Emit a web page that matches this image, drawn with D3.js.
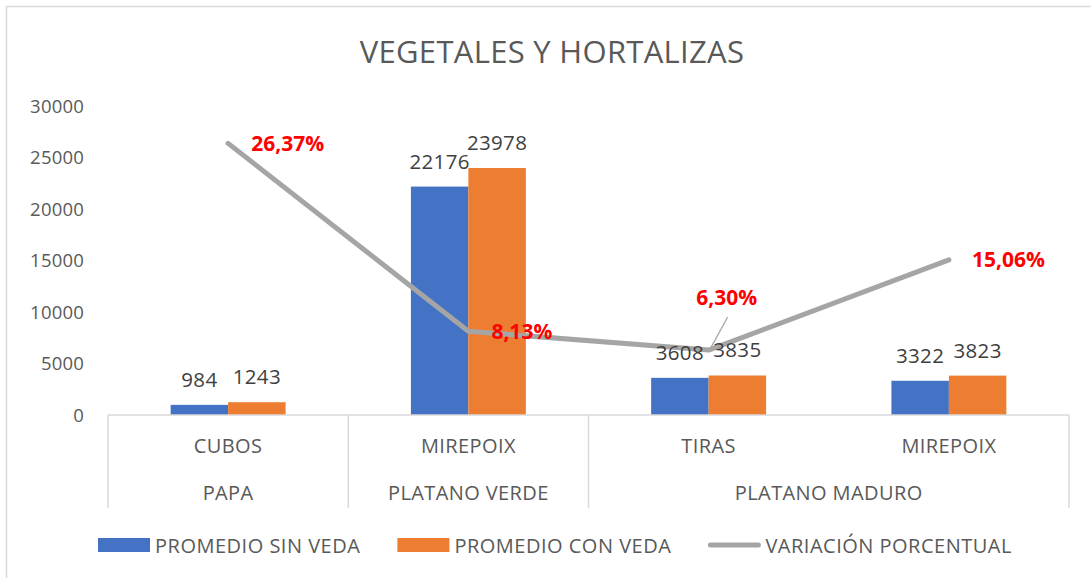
<!DOCTYPE html>
<html>

<head>
    <meta charset="utf-8">
    <title>Vegetales y hortalizas</title>
    <style>
        body { margin: 0; background: #fff; }
        svg { display: block; font-family: "Open Sans", sans-serif; }
    </style>
</head>

<body>
    <svg id="grafico" width="1091" height="578"></svg>

    <script src="https://d3js.org/d3.v7.min.js"></script>
    <script>
        // datos
        var categorias = ["CUBOS", "MIREPOIX", "TIRAS", "MIREPOIX"];
        var grupos = ["PAPA", "PLATANO VERDE", "PLATANO MADURO"];
        var grupoDeCategoria = [0, 1, 2, 2];
        var promedioSinVeda = [984, 22176, 3608, 3322];
        var promedioConVeda = [1243, 23978, 3835, 3823];
        var variacion = [26.37, 8.13, 6.30, 15.06];
        var ticksY = [0, 5000, 10000, 15000, 20000, 25000, 30000];
        var series = ["PROMEDIO SIN VEDA", "PROMEDIO CON VEDA", "VARIACIÓN PORCENTUAL"];

        var azul = "#4472c4", naranja = "#ed7d31", gris = "#a5a5a5";

        var svg = d3.select("#grafico");

        // borde del gráfico (solo se ven arriba e izquierda)
        svg.append("rect")
            .attr("x", 6.5).attr("y", 6.5)
            .attr("width", 1100).attr("height", 600)
            .attr("fill", "none")
            .attr("stroke", "#d9d9d9")
            .attr("stroke-width", 1.5);

        // título
        svg.append("text")
            .attr("x", 552).attr("y", 63)
            .attr("text-anchor", "middle")
            .attr("fill", "#595959")
            .style("font-size", "31px")
            .style("letter-spacing", "0.3px")
            .text("VEGETALES Y HORTALIZAS");

        var x = d3.scaleBand()
            .domain(d3.range(categorias.length))
            .range([108, 1069]);

        var xSerie = d3.scaleBand()
            .domain([0, 1])
            .range([0, x.bandwidth()])
            .paddingOuter(1.09);

        var y = d3.scaleLinear().domain([0, 30000]).range([415, 106]);
        var y2 = d3.scaleLinear().domain([0, 30]).range([415, 106]);

        // etiquetas del eje Y
        svg.append("g").selectAll("text")
            .data(ticksY)
            .enter()
            .append("text")
            .attr("x", 84)
            .attr("y", function (d) { return y(d); })
            .attr("dy", "0.36em")
            .attr("text-anchor", "end")
            .attr("fill", "#595959")
            .style("font-size", "18.5px")
            .style("letter-spacing", "0.2px")
            .text(function (d) { return d; });

        // barras
        var valores = [promedioSinVeda, promedioConVeda];
        var colores = [azul, naranja];
        var barras = [];
        valores.forEach(function (serie, s) {
            serie.forEach(function (v, i) {
                barras.push({ s: s, i: i, v: v });
            });
        });

        svg.append("g").selectAll("rect")
            .data(barras)
            .enter()
            .append("rect")
            .attr("x", function (d) { return x(d.i) + xSerie(d.s); })
            .attr("y", function (d) { return y(d.v); })
            .attr("width", xSerie.bandwidth())
            .attr("height", function (d) { return y(0) - y(d.v); })
            .attr("fill", function (d) { return colores[d.s]; });

        // eje X (línea base y separadores)
        var ejeX = svg.append("g").attr("stroke", "#d9d9d9").attr("stroke-width", 1.5);
        ejeX.append("line")
            .attr("x1", x.range()[0]).attr("x2", x.range()[1])
            .attr("y1", y(0)).attr("y2", y(0));

        var bordesGrupo = [x.range()[0]];
        grupoDeCategoria.forEach(function (g, i) {
            if (i == grupoDeCategoria.length - 1 || grupoDeCategoria[i + 1] != g) {
                bordesGrupo.push(x(i) + x.bandwidth());
            }
        });
        ejeX.selectAll(".sep")
            .data(bordesGrupo)
            .enter()
            .append("line")
            .attr("class", "sep")
            .attr("x1", function (d) { return d; }).attr("x2", function (d) { return d; })
            .attr("y1", y(0)).attr("y2", 508);

        // etiquetas de categorías
        svg.append("g").selectAll("text")
            .data(categorias)
            .enter()
            .append("text")
            .attr("x", function (d, i) { return x(i) + x.bandwidth() / 2; })
            .attr("y", 453)
            .attr("text-anchor", "middle")
            .attr("fill", "#595959")
            .style("font-size", "20px")
            .style("letter-spacing", "0.4px")
            .text(function (d) { return d; });

        svg.append("g").selectAll("text")
            .data(grupos)
            .enter()
            .append("text")
            .attr("x", function (d, g) {
                var idx = d3.range(categorias.length).filter(function (i) { return grupoDeCategoria[i] == g; });
                return (x(idx[0]) + x(idx[idx.length - 1]) + x.bandwidth()) / 2;
            })
            .attr("y", 500)
            .attr("text-anchor", "middle")
            .attr("fill", "#595959")
            .style("font-size", "20px")
            .style("letter-spacing", "0.4px")
            .text(function (d) { return d; });

        // línea de variación porcentual (eje secundario oculto)
        var linea = d3.line()
            .x(function (d, i) { return x(i) + x.bandwidth() / 2; })
            .y(function (d) { return y2(d); });

        svg.append("path")
            .datum(variacion)
            .attr("d", linea)
            .attr("fill", "none")
            .attr("stroke", gris)
            .attr("stroke-width", 5)
            .attr("stroke-linejoin", "round")
            .attr("stroke-linecap", "round");

        // etiquetas de las barras
        svg.append("g").selectAll("text")
            .data(barras)
            .enter()
            .append("text")
            .attr("x", function (d) { return x(d.i) + xSerie(d.s) + xSerie.bandwidth() / 2; })
            .attr("y", function (d) { return y(d.v) - 18; })
            .attr("text-anchor", "middle")
            .attr("fill", "#404040")
            .style("font-size", "20.5px")
            .style("letter-spacing", "0.3px")
            .text(function (d) { return d.v; });

        // etiquetas de porcentaje (la de TIRAS va desplazada con línea guía)
        var fmt = function (v) { return v.toFixed(2).replace(".", ",") + "%"; };
        var gPct = svg.append("g");
        variacion.forEach(function (v, i) {
            var px = x(i) + x.bandwidth() / 2;
            var py = y2(v);
            if (i == 2) {
                gPct.append("line")
                    .attr("x1", px + 19).attr("y1", py - 33)
                    .attr("x2", px + 2).attr("y2", py - 2)
                    .attr("stroke", "#a6a6a6")
                    .attr("stroke-width", 1.2);
                gPct.append("text")
                    .attr("x", px + 18).attr("y", py - 45)
                    .attr("text-anchor", "middle")
                    .attr("fill", "#ff0000")
                    .style("font-size", "21px")
                    .style("font-weight", "bold")
                    .text(fmt(v));
            } else {
                gPct.append("text")
                    .attr("x", px + 23).attr("y", py)
                    .attr("dy", "0.36em")
                    .attr("fill", "#ff0000")
                    .style("font-size", "21px")
                    .style("font-weight", "bold")
                    .text(fmt(v));
            }
        });

        // leyenda
        var leyenda = svg.append("g");
        var lx = 98;
        series.forEach(function (nombre, s) {
            if (s < 2) {
                leyenda.append("rect")
                    .attr("x", lx).attr("y", 538)
                    .attr("width", 52).attr("height", 14)
                    .attr("fill", colores[s]);
            } else {
                leyenda.append("line")
                    .attr("x1", lx + 2).attr("x2", lx + 50)
                    .attr("y1", 545).attr("y2", 545)
                    .attr("stroke", gris)
                    .attr("stroke-width", 5)
                    .attr("stroke-linecap", "round");
            }
            var t = leyenda.append("text")
                .attr("x", lx + 57).attr("y", 552.5)
                .attr("fill", "#595959")
                .style("font-size", "20px")
                .style("letter-spacing", "0.5px")
                .text(nombre);
            lx = lx + 57 + t.node().getComputedTextLength() + 37;
        });
    </script>
</body>

</html>
